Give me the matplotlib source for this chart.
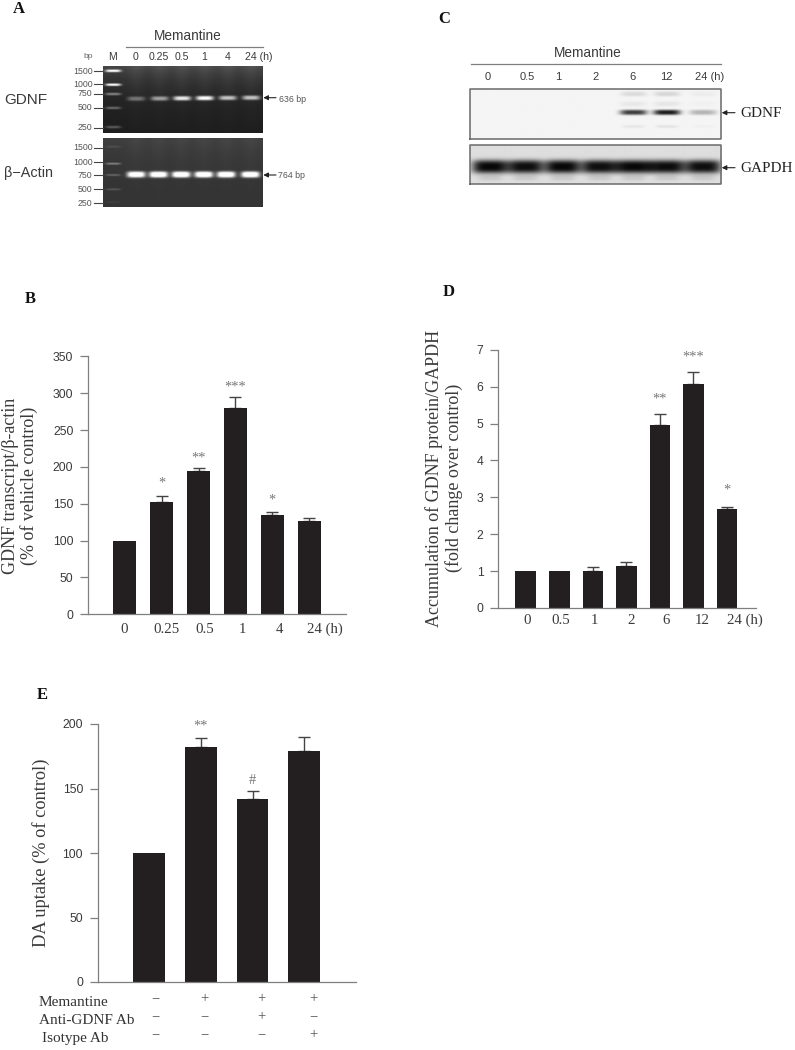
import numpy as np
import matplotlib
matplotlib.use("Agg")
import matplotlib.pyplot as plt

SERIF = "Liberation Serif"
SANS = "Liberation Sans"
BAR = "#231f20"
AXC = "#7f7f7f"
TXT = "#3a3a3a"
STAR = "#777777"

# ---- data ----
b_labels = ["0", "0.25", "0.5", "1", "4", "24 (h)"]
b_values = [100, 153, 194, 280, 135, 126]
b_errors = [0, 7, 4, 15, 4, 5]
b_marks = ["", "*", "**", "***", "*", ""]

d_labels = ["0", "0.5", "1", "2", "6", "12", "24 (h)"]
d_values = [1, 1, 1, 1.13, 4.97, 6.07, 2.69]
d_errors = [0, 0, 0.12, 0.13, 0.28, 0.33, 0.06]
d_marks = ["", "", "", "", "**", "***", "*"]

e_values = [100, 182, 142, 179]
e_errors = [0, 7, 6, 11]
e_marks = ["", "**", "#", ""]
e_rows = ["Memantine", "Anti-GDNF Ab", "Isotype Ab"]
e_signs = [["−", "+", "+", "+"], ["−", "−", "+", "−"], ["−", "−", "−", "+"]]

ladder_sizes = ["1500", "1000", "750", "500", "250"]
a_times = ["0", "0.25", "0.5", "1", "4", "24 (h)"]
gdnf_rna_band = [0.35, 0.55, 0.9, 1.0, 0.72, 0.72]
actin_band = [0.95, 1.0, 1.0, 1.0, 1.0, 1.0]
ladder_top = [1.0, 1.0, 0.45, 0.35, 0.3]
ladder_bot = [0.08, 0.3, 0.2, 0.14, 0.04]

c_times = ["0", "0.5", "1", "2", "6", "12", "24 (h)"]
gdnf_blot = [0, 0, 0, 0, 0.85, 1.0, 0.3]
gapdh_blot = [1.0, 0.97, 1.0, 0.97, 1.0, 0.98, 0.97]

W, H = 795, 1050
fig = plt.figure(figsize=(W / 100, H / 100), dpi=100, facecolor="white")
ov = fig.add_axes([0, 0, 1, 1], zorder=0)
ov.set_axis_off()


def T(x, y, s, size=8, fam=SANS, c=TXT, ha="center", va="center", **kw):
    ov.text(x, y, s, fontsize=size, family=fam, color=c, ha=ha, va=va, **kw)


def gel(x0, x1, y0, y1, bands, base, fade, smear=None, ypow=3):
    xs = np.linspace(x0, x1, int(x1 - x0) * 2)
    ys = np.linspace(y0, y1, int(y1 - y0) * 2)
    X, Y = np.meshgrid(xs, ys)
    img = base + fade * np.exp(-(Y - y0) / 22.0)
    if smear is not None:
        for cx, amp in smear:
            img = img + amp * np.exp(-((X - cx) / 8.0) ** 2) * np.exp(-(Y - y0) / 30.0)
    for cx, cy, w, h, amp in bands:
        img = img + amp * np.exp(-np.abs((X - cx) / w) ** 4) * np.exp(-np.abs((Y - cy) / h) ** ypow)
    return np.clip(img, 0, 1), (x0, x1, y1, y0)


def show(res, edge=None):
    img, ext = res
    ov.imshow(img, cmap="gray", vmin=0, vmax=1, extent=ext, aspect="auto",
              interpolation="bilinear", zorder=1)
    if edge:
        ov.plot([ext[0], ext[1], ext[1], ext[0], ext[0]],
                [ext[2], ext[2], ext[3], ext[3], ext[2]], color=edge, lw=1.1, zorder=2)


def arrow(x_from, x_to, y):
    ov.annotate("", xy=(x_to, y), xytext=(x_from, y),
                arrowprops=dict(arrowstyle="-|>", color="#222222", lw=0.8,
                                mutation_scale=7, shrinkA=0, shrinkB=0), zorder=3)


# ---- Panel A ----
lanes_a = [135.7, 159.3, 181.7, 204.3, 227.3, 250.7]
lanes_a2 = [135.7, 158, 180.7, 203.3, 225.7, 250]
lad_y1 = [70.3, 84.3, 93.7, 107.7, 127]
lad_y2 = [146.7, 163.7, 175, 189.3, 202]
tick_y1 = [71, 84.3, 93.7, 107.7, 128]
tick_y2 = [148, 162.3, 175, 189.3, 203.3]

bands = [(112.7, y, 7.8, 1.3, a * 0.8) for y, a in zip(lad_y1, ladder_top)]
bands += [(x, 98.4 - i * 0.2, 8.8, 2.2, a * 0.85) for i, (x, a) in enumerate(zip(lanes_a, gdnf_rna_band))]
show(gel(102.7, 262.3, 65.7, 132.7, bands, 0.11, 0.17,
         [(x, 0.05) for x in lanes_a]))
bands = [(112.7, y, 7.5, 1.0, a) for y, a in zip(lad_y2, ladder_bot)]
bands += [(x, 174.5, 9.2, 3.0, a) for x, a in zip(lanes_a2, actin_band)]
show(gel(102.7, 262.3, 138.3, 206.7, bands, 0.2, 0.05,
         [(x, 0.03) for x in lanes_a2]))

for ty, lab in zip(tick_y1, ladder_sizes):
    T(92.5, ty, lab, 6.3, ha="right", c="#555555")
    ov.plot([93.5, 102.5], [ty, ty], color="#444444", lw=0.8, zorder=2)
for ty, lab in zip(tick_y2, ladder_sizes):
    T(92.5, ty, lab, 6.3, ha="right", c="#555555")
    ov.plot([93.5, 102.5], [ty, ty], color="#444444", lw=0.8, zorder=2)

T(187.5, 36, "Memantine", 9.8)
ov.plot([126, 262.5], [47, 47], color=AXC, lw=0.9)
T(88, 56.5, "bp", 6, c="#666666")
T(112.7, 57, "M", 7.6)
for x, lab in zip([135.7, 159.3, 181.7, 204.3, 227.3, 258.7], a_times):
    T(x, 57, lab, 7.6)
T(4, 100, "GDNF", 11, ha="left")
T(4, 173.5, "β−Actin", 10.4, ha="left")
arrow(276, 263.3, 97.7)
arrow(276, 263.3, 175)
T(279.3, 99, "636 bp", 6.3, ha="left", c="#555555")
T(277.7, 176, "764 bp", 6.3, ha="left", c="#555555")

# ---- Panel C ----
blot_x = [489.7, 525, 562, 598.7, 632.7, 666, 702]
neg = lambda lst, k: [-k * v for v in lst]
bands = [(x, 112.5, 13.5, 2.6, a) for x, a in zip(blot_x, neg(gdnf_blot, 0.85))]
bands += [(x, 94, 13, 2.5, a) for x, a in zip(blot_x, neg(gdnf_blot, 0.12))]
bands += [(x, 104, 13, 2.5, a) for x, a in zip(blot_x, neg(gdnf_blot, 0.06))]
bands += [(x, 126.7, 11, 1.6, a) for x, a in zip(blot_x, neg(gdnf_blot, 0.07))]
show(gel(469.7, 720.7, 89.3, 139, bands, 0.96, 0.0), edge="#6a6a6a")
bands = [(x, 166.7, 18, 6.8, a) for x, a in zip(blot_x, neg(gapdh_blot, 0.84))]
bands += [(x, 178, 12, 3, a) for x, a in zip(blot_x, neg(gapdh_blot, 0.08))]
show(gel(469.7, 720.7, 145, 184, bands, 0.87, 0.0), edge="#6a6a6a")

T(588, 53, "Memantine", 9.8)
ov.plot([470.5, 720.7], [63.7, 63.7], color=AXC, lw=0.9)
for x, lab in zip([488, 527, 558.7, 595.7, 632.7, 666, 710], c_times):
    T(x, 76.7, lab, 8)
arrow(735, 721.7, 112.7)
arrow(735, 721.7, 167.7)
T(740.7, 113.5, "GDNF", 11, fam=SERIF, ha="left", c="#222222")
T(740.7, 169, "GAPDH", 11, fam=SERIF, ha="left", c="#222222")

# ---- Panel letters ----
for x, y, s in [(19, 9, "A"), (444, 19, "C"), (30, 299, "B"), (449, 292.5, "D"), (42, 695, "E")]:
    T(x, y, s, 12, fam=SERIF, c="#111111", fontweight="bold")


def bar_axes(left, right, top, bottom, first, step, width, values, errors, marks, gaps,
             ymax, yticks, ylabel, label_x, label_y, xlabels=None, offsets=None, xpad=4):
    ax = fig.add_axes([left / W, 1 - bottom / H, (right - left) / W, (bottom - top) / H], zorder=2)
    ax.patch.set_alpha(0)
    idx = np.arange(len(values))
    ax.bar(idx, values, width=width / step, color=BAR, edgecolor="none", zorder=2)
    for i, (v, e) in enumerate(zip(values, errors)):
        if e > 0:
            ax.errorbar(i, v, yerr=[[0], [e]], color="#444444", lw=1.0, capsize=4,
                        capthick=1.0, zorder=1)
    ax.set_xlim((left - first) / step, (right - first) / step)
    ax.set_ylim(0, ymax)
    for s in ("top", "right"):
        ax.spines[s].set_visible(False)
    for s in ("left", "bottom"):
        ax.spines[s].set_color(AXC)
        ax.spines[s].set_linewidth(0.9)
    ax.set_yticks(yticks)
    ax.tick_params(axis="y", length=5.7, width=0.9, color=AXC, pad=4.8, labelsize=8.8, labelcolor=TXT)
    for t in ax.get_yticklabels():
        t.set_family(SANS)
    if xlabels:
        ax.set_xticks(idx + np.array(offsets) / step)
        ax.set_xticklabels(xlabels, family=SERIF, fontsize=10.7, color=TXT)
        ax.tick_params(axis="x", length=0, pad=xpad)
    else:
        ax.set_xticks([])
    for i, m in enumerate(marks):
        if m:
            ax.annotate(m, xy=(i, values[i] + errors[i]), xytext=(0, gaps[i] * 0.72),
                        textcoords="offset points", ha="center", va="center",
                        fontsize=10.4, family=SERIF, color=STAR)
    ax.set_ylabel(ylabel, family=SERIF, fontsize=LABEL_SIZE[ylabel], color=TXT, linespacing=1.12)
    ax.yaxis.set_label_coords((label_x - left) / (right - left), (bottom - label_y) / (bottom - top))
    ax.yaxis.label.set_va("center")
    return ax


B_LAB = "GDNF transcript/β-actin\n(% of vehicle control)"
D_LAB = "Accumulation of GDNF protein/GAPDH\n(fold change over control)"
E_LAB = "DA uptake (% of control)"
LABEL_SIZE = {B_LAB: 13, D_LAB: 13, E_LAB: 13.2}

bar_axes(88, 346, 356.3, 614.3, 124.7, 36.9, 22.7, b_values, b_errors, b_marks,
         [0, 13, 10, 10, 12, 0], 350, range(0, 351, 50), B_LAB, 20, 486,
         b_labels, [-0.7, 4.4, 6.4, 7.4, 6.7, 16], xpad=6)
bar_axes(498, 755.7, 349.7, 608, 525.8, 33.53, 20.7, d_values, d_errors, d_marks,
         [0, 0, 0, 0, 15, 15, 16], 7, range(0, 8), D_LAB, 444, 478,
         d_labels, [1.5, 1.3, 1.7, 4.4, 6, 9, 18])
bar_axes(97.7, 356, 724, 982, 149.3, 51.67, 31.7, e_values, e_errors, e_marks,
         [0, 12, 11, 0], 200, range(0, 201, 50), E_LAB, 41.5, 853)

for y, lab, sx in zip([1002.7, 1020.7, 1038.7], e_rows, [39, 39, 41.7]):
    T(sx, y, lab, 11, fam=SERIF, ha="left", c="#333333")
for y, row in zip([998.3, 1016.7, 1035], e_signs):
    for x, s in zip([155, 204, 261, 313.3], row):
        T(x, y, s, 10.5, fam=SERIF, c="#555555")

ov.set_xlim(0, W)
ov.set_ylim(H, 0)
fig.savefig("out.png", dpi=100, facecolor="white")
